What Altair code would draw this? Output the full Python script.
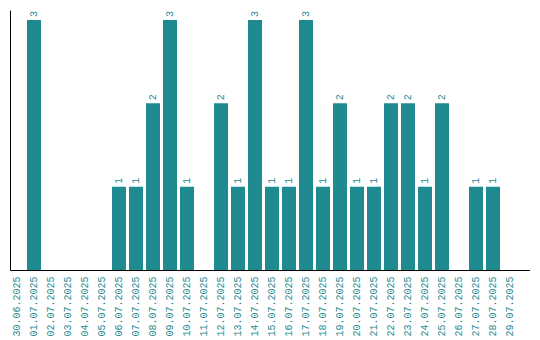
import altair as alt
import pandas as pd

dates = ["30.06.2025", "01.07.2025", "02.07.2025", "03.07.2025", "04.07.2025",
         "05.07.2025", "06.07.2025", "07.07.2025", "08.07.2025", "09.07.2025",
         "10.07.2025", "11.07.2025", "12.07.2025", "13.07.2025", "14.07.2025",
         "15.07.2025", "16.07.2025", "17.07.2025", "18.07.2025", "19.07.2025",
         "20.07.2025", "21.07.2025", "22.07.2025", "23.07.2025", "24.07.2025",
         "25.07.2025", "26.07.2025", "27.07.2025", "28.07.2025", "29.07.2025"]
counts = [0, 3, 0, 0, 0, 0, 1, 1, 2, 3, 1, 0, 2, 1, 3, 1, 1, 3, 1, 2, 1, 1, 2, 2, 1, 2, 0, 1, 1, 0]

df = pd.DataFrame({"date": dates, "count": counts})
df["label"] = df["count"].apply(lambda v: str(v) if v > 0 else "")

teal = "#1f8b91"
font = "Liberation Mono"

x = alt.X("date:N", sort=dates, title=None,
          scale=alt.Scale(paddingInner=0.176, paddingOuter=0.382, align=0),
          axis=alt.Axis(labelAngle=-90, labelColor=teal, labelFont=font, labelFontSize=10,
                        ticks=False, domainColor="black", labelPadding=6, grid=False))
y = alt.Y("count:Q", title=None, scale=alt.Scale(domain=[0, 3.12], nice=False),
          axis=alt.Axis(labels=False, ticks=False, grid=False, domainColor="black"))

bars = alt.Chart(df).mark_bar(color=teal).encode(x=x, y=y)
text = alt.Chart(df).mark_text(angle=270, align="left", baseline="middle", dx=3,
                               color=teal, font=font, fontSize=10).encode(
    x=alt.X("date:N", sort=dates), y="count:Q", text="label:N")

chart = (bars + text).properties(
    width=520, height=260,
    autosize=alt.AutoSizeParams(type="none"),
    padding={"left": 2, "top": 2, "right": 0, "bottom": 70},
).configure_view(stroke=None)

chart.save("out.html", embed_options={"renderer": "svg", "actions": False})
